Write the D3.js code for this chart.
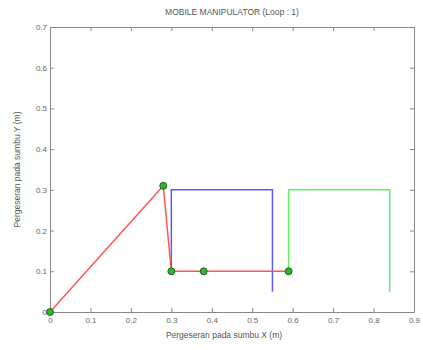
<!DOCTYPE html>
<html>
<head>
<meta charset="utf-8">
<script src="https://cdn.jsdelivr.net/npm/d3@7"></script>
<style>
  body { margin: 0; background: #fff; }
  svg { font-family: "Liberation Sans", Arial, sans-serif; }
</style>
</head>
<body>
<svg width="423" height="350"></svg>
<script>
const xTicks = [0, 0.1, 0.2, 0.3, 0.4, 0.5, 0.6, 0.7, 0.8, 0.9];
const yTicks = [0, 0.1, 0.2, 0.3, 0.4, 0.5, 0.6, 0.7];

// red arm path, with green joint markers
const armX = [0, 0.28, 0.30, 0.38, 0.59];
const armY = [0, 0.31, 0.10, 0.10, 0.10];
// blue and green gripper frames
const blueX = [0.30, 0.30, 0.55, 0.55];
const blueY = [0.10, 0.30, 0.30, 0.05];
const greenX = [0.59, 0.59, 0.84, 0.84];
const greenY = [0.10, 0.30, 0.30, 0.05];

const svg = d3.select('svg');
const mLeft = 50, mRight = 414, mTop = 27, mBottom = 312;

const x = d3.scaleLinear().domain([0, 0.9]).range([mLeft, mRight]);
const y = d3.scaleLinear().domain([0, 0.7]).range([mBottom, mTop]);

const fmt = d => d === 0 ? '0' : d3.format('.1f')(d);
const axisColor = '#888';

const gx = svg.append('g').attr('transform', `translate(0,${mBottom})`)
    .call(d3.axisBottom(x).tickValues(xTicks).tickFormat(fmt).tickSizeInner(-4).tickSizeOuter(0).tickPadding(5));
const gxt = svg.append('g').attr('transform', `translate(0,${mTop})`)
    .call(d3.axisTop(x).tickValues(xTicks).tickFormat('').tickSizeInner(-4).tickSizeOuter(0));
const gy = svg.append('g').attr('transform', `translate(${mLeft},0)`)
    .call(d3.axisLeft(y).tickValues(yTicks).tickFormat(fmt).tickSizeInner(-4).tickSizeOuter(0).tickPadding(3));
const gyr = svg.append('g').attr('transform', `translate(${mRight},0)`)
    .call(d3.axisRight(y).tickValues(yTicks).tickFormat('').tickSizeInner(-4).tickSizeOuter(0));

[gx, gxt, gy, gyr].forEach(g => {
  g.selectAll('path, line').attr('stroke', axisColor);
  g.selectAll('text').attr('fill', '#666').style('font-size', '8px');
});

const line = d3.line().x(d => x(d[0])).y(d => y(d[1]));
const zip = (a, b) => a.map((v, i) => [v, b[i]]);

svg.append('path').datum(zip(blueX, blueY)).attr('d', line)
    .attr('fill', 'none').attr('stroke', '#5a5aff').attr('stroke-width', 1.5);
svg.append('path').datum(zip(greenX, greenY)).attr('d', line)
    .attr('fill', 'none').attr('stroke', '#66ee66').attr('stroke-width', 1.5);
svg.append('path').datum(zip(armX, armY)).attr('d', line)
    .attr('fill', 'none').attr('stroke', '#ff5555').attr('stroke-width', 1.5);

svg.append('g').selectAll('circle').data(zip(armX, armY)).join('circle')
    .attr('cx', d => x(d[0])).attr('cy', d => y(d[1])).attr('r', 3.5)
    .attr('fill', '#22bb22').attr('stroke', '#224422').attr('stroke-width', 0.8);

svg.append('text').attr('x', (mLeft + mRight) / 2).attr('y', 15)
    .attr('text-anchor', 'middle').attr('fill', '#555').style('font-size', '8.5px')
    .text('MOBILE MANIPULATOR (Loop : 1)');
svg.append('text').attr('x', (mLeft + mRight) / 2 - 8).attr('y', 338)
    .attr('text-anchor', 'middle').attr('fill', '#555').style('font-size', '8.5px')
    .text('Pergeseran pada sumbu X (m)');
svg.append('text').attr('transform', `translate(20,${(mTop + mBottom) / 2}) rotate(-90)`)
    .attr('text-anchor', 'middle').attr('fill', '#555').style('font-size', '8.5px')
    .text('Pergeseran pada sumbu Y (m)');
</script>
</body>
</html>
